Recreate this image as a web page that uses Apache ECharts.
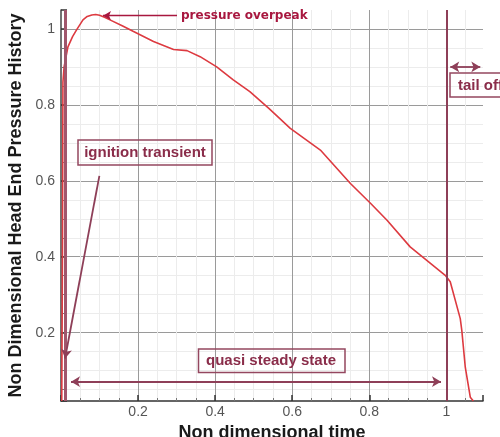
<!DOCTYPE html>
<html><head><meta charset="utf-8">
<script src="https://cdn.jsdelivr.net/npm/echarts@6/dist/echarts.min.js"></script>
<style>html,body{margin:0;padding:0;background:#fff}#c{width:500px;height:437px}</style>
</head><body><div id="c"></div>
<script>
// Non dimensional time and head-end pressure
const time = [0.002, 0.004, 0.005, 0.008, 0.018, 0.03, 0.04, 0.057, 0.068, 0.08, 0.09, 0.1, 0.113, 0.127, 0.16, 0.187, 0.24, 0.292, 0.327, 0.361, 0.404, 0.447, 0.49, 0.54, 0.595, 0.673, 0.751, 0.803, 0.846, 0.906, 0.997, 1.01, 1.036, 1.04, 1.049, 1.062, 1.07];
const pressure = [0.02, 0.45, 0.86, 0.9, 0.953, 0.98, 0.997, 1.024, 1.033, 1.037, 1.038, 1.036, 1.031, 1.024, 1.008, 0.994, 0.967, 0.946, 0.943, 0.927, 0.9, 0.866, 0.835, 0.79, 0.738, 0.681, 0.593, 0.541, 0.496, 0.426, 0.351, 0.334, 0.237, 0.206, 0.109, 0.03, 0.02];
// phase boundaries (ignition end, burn end)
const ignitionLine = 0.012;
const burnoutLine = 1.0;
// annotation arrows in data coordinates [from, to]
const overpeakArrow = [[0.301, 1.035], [0.109, 1.035]];
const ignitionArrow = [[0.0995, 0.613], [0.0104, 0.132]];
const steadyArrow = [[0.026, 0.071], [0.986, 0.071]];
const tailArrow = [[1.01, 0.9], [1.088, 0.9]];
const labels = ['pressure overpeak', 'ignition transient', 'quasi steady state', 'tail off'];
const xTitle = 'Non dimensional time';
const yTitle = 'Non Dimensional Head End Pressure History';

const maroon = '#8e3f58';
const maroonText = '#8a2d4a';
const chart = echarts.init(document.getElementById('c'));
const pairs = time.map((t, i) => [t, pressure[i]]);
function arrowLine(a, both) {
  return [{coord: a[0], symbol: both ? 'arrow' : 'none'}, {coord: a[1], symbol: 'arrow'}];
}
chart.setOption({
  animation: false,
  grid: {left: 61, right: 17, top: 10, bottom: 36, outerBoundsMode: 'none'},
  xAxis: {
    type: 'value', min: 0, max: 1.095, minInterval: 0.2, maxInterval: 0.2,
    name: xTitle, nameLocation: 'middle', nameGap: 14,
    nameTextStyle: {fontFamily: 'Liberation Sans', fontWeight: 'bold', fontSize: 18, color: '#1a1a1a'},
    axisLine: {show: true, onZero: false, lineStyle: {color: '#333', width: 1.5}},
    axisTick: {show: true, inside: true, length: 6, lineStyle: {color: '#333', width: 1.5}},
    minorTick: {show: true, splitNumber: 4, length: 3, lineStyle: {color: '#777'}},
    axisLabel: {showMinLabel: false, showMaxLabel: false, margin: 4, fontFamily: 'Liberation Sans', fontSize: 14, color: '#555',
      formatter: v => String(Math.round(v * 10) / 10)},
    splitLine: {show: true, showMinLine: false, showMaxLine: false, lineStyle: {color: '#9a9a9a', width: 1}},
    minorSplitLine: {show: true, lineStyle: {color: '#ececec', width: 1}}
  },
  yAxis: {
    type: 'value', min: 0.02, max: 1.05, minInterval: 0.2, maxInterval: 0.2,
    name: yTitle, nameLocation: 'middle', nameGap: 30, nameRotate: 90,
    nameTextStyle: {fontFamily: 'Liberation Sans', fontWeight: 'bold', fontSize: 18, color: '#1a1a1a'},
    axisLine: {show: true, onZero: false, lineStyle: {color: '#444', width: 1.5}},
    axisTick: {show: true, inside: true, length: 6, lineStyle: {color: '#333', width: 1.5}},
    minorTick: {show: true, splitNumber: 4, length: 3, lineStyle: {color: '#777'}},
    axisLabel: {showMinLabel: false, showMaxLabel: false, margin: 6, fontFamily: 'Liberation Sans', fontSize: 14, color: '#555',
      formatter: v => String(Math.round(v * 10) / 10)},
    splitLine: {show: true, showMinLine: false, showMaxLine: false, lineStyle: {color: '#9a9a9a', width: 1}},
    minorSplitLine: {show: true, lineStyle: {color: '#ececec', width: 1}}
  },
  series: [
    {
      type: 'line', data: [], silent: true,
      markLine: {
        silent: true, animation: false, symbol: 'none', label: {show: false},
        data: [
          {xAxis: ignitionLine, lineStyle: {color: '#a0566c', width: 3, type: 'solid'}},
          {xAxis: burnoutLine, lineStyle: {color: maroon, width: 2, type: 'solid'}}
        ]
      }
    },
    {
      type: 'line', data: pairs, showSymbol: false, smooth: false,
      lineStyle: {color: '#dd3a40', width: 1.6}, itemStyle: {color: '#dd3a40'}, z: 3
    },
    {
      type: 'line', data: [], silent: true,
      markLine: {
        silent: true, animation: false, label: {show: false}, symbolSize: [8, 9],
        lineStyle: {color: maroon, width: 1.8, type: 'solid'},
        data: [
          arrowLine(steadyArrow, true),
          arrowLine(ignitionArrow, false),
          arrowLine(tailArrow, true)
        ]
      }
    },
    {
      type: 'line', data: [], silent: true,
      markLine: {
        silent: true, animation: false, label: {show: false}, symbolSize: [7, 8],
        lineStyle: {color: '#a8173f', width: 1.3, type: 'solid'},
        data: [arrowLine(overpeakArrow, false)]
      }
    }
  ],
  graphic: [
    {type: 'text', left: 181, top: 10, z: 10,
      style: {text: labels[0], fill: '#a8173f', font: 'bold 12px "DejaVu Sans"'}},
    {type: 'rect', z: 10, shape: {x: 78, y: 140, width: 134, height: 25},
      style: {fill: 'none', stroke: '#94475f', lineWidth: 1.5}},
    {type: 'text', z: 10, x: 145, y: 153,
      style: {text: labels[1], fill: maroonText, font: 'bold 15px "Liberation Sans"', textAlign: 'center', textVerticalAlign: 'middle'}},
    {type: 'rect', z: 10, shape: {x: 198.5, y: 349, width: 146.5, height: 23.5},
      style: {fill: 'none', stroke: '#94475f', lineWidth: 1.5}},
    {type: 'text', z: 10, x: 271, y: 361,
      style: {text: labels[2], fill: maroonText, font: 'bold 15px "Liberation Sans"', textAlign: 'center', textVerticalAlign: 'middle'}},
    {type: 'rect', z: 10, shape: {x: 450, y: 73, width: 60, height: 24},
      style: {fill: 'none', stroke: '#94475f', lineWidth: 1.5}},
    {type: 'text', z: 10, x: 458, y: 85.5,
      style: {text: labels[3], fill: maroonText, font: 'bold 15px "Liberation Sans"', textAlign: 'left', textVerticalAlign: 'middle'}}
  ]
});
</script></body></html>
